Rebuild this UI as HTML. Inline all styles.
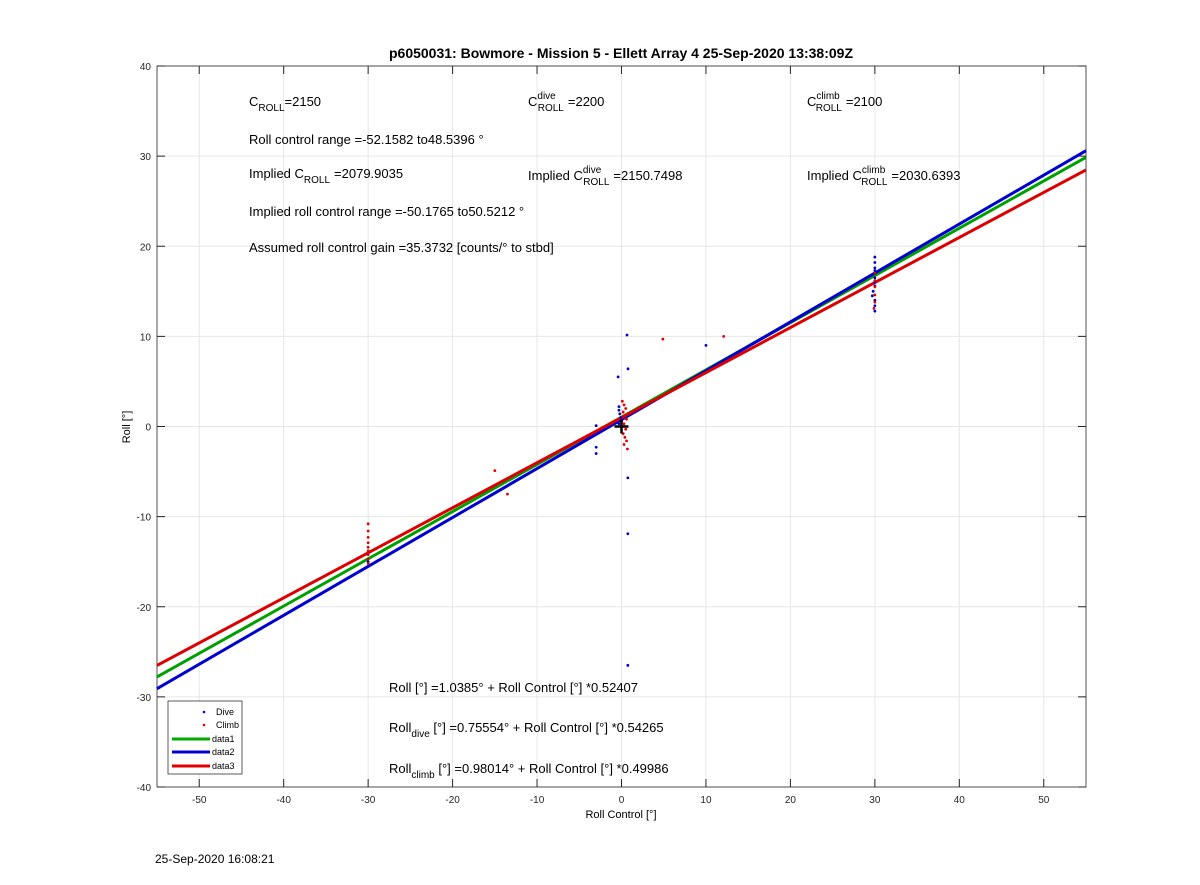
<!DOCTYPE html>
<html><head><meta charset="utf-8"><style>
body{margin:0;background:#fff}
svg{display:block;font-family:"Liberation Sans",Arial,sans-serif}
</style></head><body>
<svg id="c" width="1200" height="885" xmlns="http://www.w3.org/2000/svg">
<rect width="1200" height="885" fill="#fff"/>
<g id="grid"></g>
<g id="axes"></g>
<g id="lines"></g>
<g id="pts"></g>
<text x="621" y="58" text-anchor="middle" font-size="14" font-weight="bold">p6050031: Bowmore - Mission 5 - Ellett Array 4 25-Sep-2020 13:38:09Z</text>
<text x="621" y="818" text-anchor="middle" font-size="11">Roll Control [°]</text>
<text transform="translate(130,427) rotate(-90)" text-anchor="middle" font-size="11">Roll [°]</text>
<g font-size="13">
<text x="249" y="106">C<tspan dy="5" font-size="10">ROLL</tspan><tspan dy="-5">=2150</tspan></text>
<text x="528" y="106">C<tspan dy="-7" font-size="10">dive</tspan><tspan dx="-18" dy="12" font-size="10">ROLL</tspan><tspan dx="4" dy="-5">=2200</tspan></text>
<text x="807" y="106">C<tspan dy="-7" font-size="10">climb</tspan><tspan dx="-24" dy="12" font-size="10">ROLL</tspan><tspan dx="4" dy="-5">=2100</tspan></text>
<text x="249" y="144">Roll control range =-52.1582 to48.5396 °</text>
<text x="249" y="178">Implied C<tspan dy="5" font-size="10">ROLL</tspan><tspan dx="4" dy="-5">=2079.9035</tspan></text>
<text x="528" y="180">Implied C<tspan dy="-7" font-size="10">dive</tspan><tspan dx="-18" dy="12" font-size="10">ROLL</tspan><tspan dx="4" dy="-5">=2150.7498</tspan></text>
<text x="807" y="180">Implied C<tspan dy="-7" font-size="10">climb</tspan><tspan dx="-24" dy="12" font-size="10">ROLL</tspan><tspan dx="4" dy="-5">=2030.6393</tspan></text>
<text x="249" y="216">Implied roll control range =-50.1765 to50.5212 °</text>
<text x="249" y="252">Assumed roll control gain =35.3732 [counts/° to stbd]</text>
<text x="389" y="692">Roll [°] =1.0385° + Roll Control [°] *0.52407</text>
<text x="389" y="732">Roll<tspan dy="5" font-size="10">dive</tspan><tspan dy="-5"> [°] =0.75554° + Roll Control [°] *0.54265</tspan></text>
<text x="389" y="773">Roll<tspan dy="5" font-size="10">climb</tspan><tspan dy="-5"> [°] =0.98014° + Roll Control [°] *0.49986</tspan></text>
</g>
<g>
<rect x="168" y="701" width="74" height="73" fill="#fff" stroke="#333" stroke-width="0.8"/>
<circle cx="204" cy="712" r="1.3" fill="#00f"/><text x="216" y="715" font-size="9">Dive</text>
<circle cx="204" cy="725" r="1.3" fill="#e00"/><text x="216" y="728" font-size="9">Climb</text>
<line x1="172" y1="739" x2="210" y2="739" stroke="#0a0" stroke-width="3"/><text x="212" y="742" font-size="9">data1</text>
<line x1="172" y1="752" x2="210" y2="752" stroke="#00c" stroke-width="3"/><text x="212" y="755" font-size="9">data2</text>
<line x1="172" y1="766" x2="210" y2="766" stroke="#d00" stroke-width="3"/><text x="212" y="769" font-size="9">data3</text>
</g>
<text x="155" y="863" font-size="12">25-Sep-2020 16:08:21</text>
</svg>
<script>
const xTicks=[-50,-40,-30,-20,-10,0,10,20,30,40,50];
const yTicks=[-40,-30,-20,-10,0,10,20,30,40];
const fitIntercepts=[1.0385,0.75554,0.98014];
const fitSlopes=[0.52407,0.54265,0.49986];
const fitColors=['#00a000','#0000d0','#dd0000'];
const fitNames=['fit-line-data1','fit-line-data2','fit-line-data3'];
const diveX=[0.65,0.77,-0.4,10,-3,-3,-3,0.75,0.75,0.75,-0.3,-0.3,-0.2,-0.1,0,-0.3,30,30,30,30,30,30,30,29.8,29.7,30,30,30,30,-30,-30];
const diveY=[10.15,6.4,5.5,9.0,0.1,-2.3,-3.0,-5.7,-11.9,-26.5,2.2,1.8,1.4,1.0,0.6,0.3,18.8,18.2,17.6,17.0,16.5,16.0,15.6,15.0,14.5,14.0,13.4,12.8,17.3,-14.2,-15.0];
const climbX=[4.9,12.1,-15,-13.5,0.1,0.3,0.5,0.2,0.4,0.6,0.3,0.5,0.2,0.4,0.6,0.3,0.7,30,30,30,30,30,29.9,-30,-30,-30,-30,-30,-30,-30,-30,-30];
const climbY=[9.7,10.0,-4.9,-7.5,2.8,2.4,2.0,1.6,1.2,0.8,0.3,-0.3,-0.8,-1.2,-1.6,-2.0,-2.5,17.0,16.2,15.5,14.6,13.8,13.1,-10.8,-11.6,-12.3,-12.9,-13.4,-13.8,-14.2,-14.7,-15.2];
const L=157,R=1086,T=66,B=787,xMin=-55,xMax=55,yMin=-40,yMax=40;
const sx=v=>L+(v-xMin)/(xMax-xMin)*(R-L);
const sy=v=>B-(v-yMin)/(yMax-yMin)*(B-T);
const NS='http://www.w3.org/2000/svg';
function mk(tag,attrs,parent){const e=document.createElementNS(NS,tag);for(const k in attrs)e.setAttribute(k,attrs[k]);parent.appendChild(e);return e;}
const grid=document.getElementById('grid'),axes=document.getElementById('axes'),lines=document.getElementById('lines'),pts=document.getElementById('pts');
mk('rect',{x:L,y:T,width:R-L,height:B-T,fill:'#fff'},grid);
xTicks.forEach(t=>{
 const g=mk('line',{x1:sx(t),x2:sx(t),y1:T,y2:B,stroke:'#e6e6e6','stroke-width':1},grid);
 
 
 mk('line',{x1:sx(t),x2:sx(t),y1:B,y2:B-8,stroke:'#262626'},axes);
 mk('line',{x1:sx(t),x2:sx(t),y1:T,y2:T+8,stroke:'#262626'},axes);
 const tx=mk('text',{x:sx(t),y:B+16,'text-anchor':'middle','font-size':10,fill:'#262626'},axes);
 tx.textContent=t;
 
 
});
yTicks.forEach(t=>{
 const g=mk('line',{x1:L,x2:R,y1:sy(t),y2:sy(t),stroke:'#e6e6e6','stroke-width':1},grid);
 
 
 mk('line',{x1:L,x2:L+8,y1:sy(t),y2:sy(t),stroke:'#262626'},axes);
 mk('line',{x1:R,x2:R-8,y1:sy(t),y2:sy(t),stroke:'#262626'},axes);
 const tx=mk('text',{x:L-6,y:sy(t)+4,'text-anchor':'end','font-size':10,fill:'#262626'},axes);
 tx.textContent=t;
 
 
});
const box=mk('rect',{x:L,y:T,width:R-L,height:B-T,fill:'none',stroke:'#262626','stroke-width':0.8},axes);


[0,1,2].forEach(i=>{
 const ln=mk('line',{x1:sx(xMin),y1:sy(fitIntercepts[i]+fitSlopes[i]*xMin),x2:sx(xMax),y2:sy(fitIntercepts[i]+fitSlopes[i]*xMax),stroke:fitColors[i],'stroke-width':3},lines);
 
 
});
diveX.forEach((x,i)=>{
 const c=mk('circle',{cx:sx(x),cy:sy(diveY[i]),r:1.4,fill:'#0000cc'},pts);
 
 
});
climbX.forEach((x,i)=>{
 const c=mk('circle',{cx:sx(x),cy:sy(climbY[i]),r:1.4,fill:'#e00000'},pts);
 
 
});
const ox=sx(0),oy=sy(0);
const p=mk('path',{d:`M${ox-7},${oy}H${ox+7}M${ox},${oy-7}V${oy+7}`,stroke:'#000','stroke-width':2.5},pts);


</script>
</body></html>
